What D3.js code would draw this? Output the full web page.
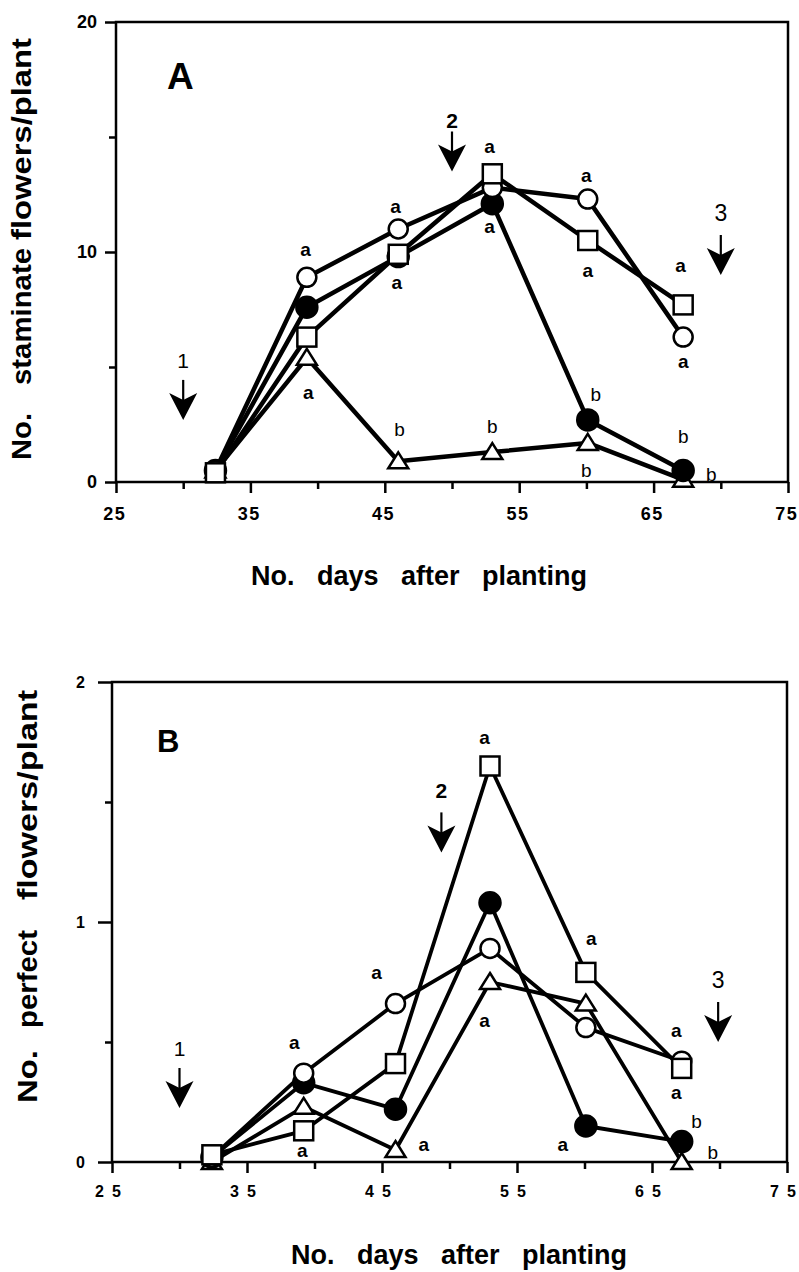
<!DOCTYPE html>
<html><head><meta charset="utf-8">
<script src="https://cdn.jsdelivr.net/npm/d3@7"></script>
<style>
body{margin:0;background:#fff}
svg{display:block}
text{font-family:"Liberation Sans",Arial,Helvetica,sans-serif;fill:#000}
</style>
</head><body><svg id="chart" width="799" height="1272"></svg>
<script>
// ---------- data ----------
const days = [32.4, 39.2, 46, 53, 60.1, 67.2];
const xTicks = [25, 35, 45, 55, 65, 75];
const xMinorTicks = [30, 40, 50, 60, 70];

// Panel A: staminate flowers / plant
const yTicksA = [0, 10, 20];
const yMinorA = [5, 15];
const staminateOpenCircle   = [0.5, 8.9, 11.0, 12.8, 12.3, 6.3];
const staminateFilledCircle = [0.5, 7.6, 9.8, 12.1, 2.7, 0.5];
const staminateOpenSquare   = [0.4, 6.3, 9.9, 13.4, 10.5, 7.7];
const staminateOpenTriangle = [0.5, 5.4, 0.9, 1.3, 1.7, 0.1];
const lettersA = [
  [39.1, 10.1, "a"], [39.3, 3.9, "a"],
  [45.8, 12.0, "a"], [45.9, 8.7, "a"], [46.1, 2.3, "b"],
  [52.8, 14.6, "a"], [52.8, 11.1, "a"], [53.0, 2.4, "b"],
  [60.0, 13.35, "a"], [60.1, 9.2, "a"], [60.7, 3.8, "b"], [60.0, 0.5, "b"],
  [67.0, 9.4, "a"], [67.2, 5.26, "a"], [67.2, 2.0, "b"], [69.3, 0.35, "b"]
];
const arrowsA = [[30, 2.7, 5.3, "1"], [50, 13.5, 15.7, "2"], [70, 9.0, 11.7, "3"]];

// Panel B: perfect flowers / plant
const yTicksB = [0, 1, 2];
const yMinorB = [0.5, 1.5];
const perfectOpenCircle   = [0.02, 0.37, 0.66, 0.89, 0.56, 0.42];
const perfectFilledCircle = [0.02, 0.33, 0.22, 1.08, 0.15, 0.085];
const perfectOpenSquare   = [0.03, 0.13, 0.41, 1.65, 0.79, 0.39];
const perfectOpenTriangle = [0.0, 0.23, 0.05, 0.75, 0.66, 0.0];
const lettersB = [
  [38.5, 0.50, "a"], [39.1, 0.05, "a"],
  [44.6, 0.79, "a"], [48.1, 0.075, "a"],
  [52.6, 1.77, "a"], [52.6, 0.59, "a"],
  [60.5, 0.93, "a"], [58.4, 0.075, "a"],
  [66.8, 0.55, "a"], [66.8, 0.29, "a"], [68.3, 0.17, "b"], [69.5, 0.04, "b"]
];
const arrowsB = [[30, 0.225, 0.475, "1"], [49.4, 1.29, 1.55, "2"], [69.9, 0.5, 0.76, "3"]];

// ---------- drawing ----------
const svg = d3.select("#chart");

function panel(cfg) {
  const x = d3.scaleLinear().domain([25, 75]).range([cfg.left, cfg.right]);
  const y = d3.scaleLinear().domain([0, cfg.yMax]).range([cfg.bottom, cfg.top]);
  const g = svg.append("g");

  // box
  g.append("rect").attr("x", cfg.left).attr("y", cfg.top)
    .attr("width", cfg.right - cfg.left).attr("height", cfg.bottom - cfg.top)
    .attr("fill", "none").attr("stroke", "#000").attr("stroke-width", 2.5);

  // x axis
  const xa = g.append("g").attr("transform", `translate(0,${cfg.bottom})`)
    .call(d3.axisBottom(x).tickValues(xTicks).tickFormat(d => String(d).split("").join(cfg.xSep))
      .tickSize(11).tickSizeOuter(0).tickPadding(cfg.xPad));
  const xm = g.append("g").attr("transform", `translate(0,${cfg.bottom})`)
    .call(d3.axisBottom(x).tickValues(xMinorTicks).tickFormat("").tickSize(7).tickSizeOuter(0));
  // y axis
  const ya = g.append("g").attr("transform", `translate(${cfg.left},0)`)
    .call(d3.axisLeft(y).tickValues(cfg.yTicks).tickFormat(d3.format("d"))
      .tickSize(cfg.yTickLen).tickSizeOuter(0).tickPadding(cfg.yPad));
  const ym = g.append("g").attr("transform", `translate(${cfg.left},0)`)
    .call(d3.axisLeft(y).tickValues(cfg.yMinor).tickFormat("").tickSize(7).tickSizeOuter(0));
  [xa, xm, ya, ym].forEach(a => {
    a.select(".domain").remove();
    a.selectAll("line").attr("stroke", "#000").attr("stroke-width", 2.5);
  });
  xa.selectAll("text").attr("font-size", cfg.xFont).attr("font-weight", "bold")
    .attr("dx", cfg.xDx)
    .style("font-family", "'Liberation Sans', Arial, sans-serif");
  ya.selectAll("text").attr("font-size", cfg.yFont).attr("font-weight", "bold")
    .style("font-family", "'Liberation Sans', Arial, sans-serif");

  // series lines
  const line = d3.line().x((d, i) => x(days[i])).y(d => y(d));
  cfg.series.forEach(s => {
    g.append("path").datum(s.values).attr("d", line)
      .attr("fill", "none").attr("stroke", "#000")
      .attr("stroke-width", cfg.lineW).attr("stroke-linejoin", "round");
  });
  // markers
  cfg.order.forEach(k => {
    const s = cfg.series.find(d => d.kind === k);
    const mg = g.append("g");
    s.values.forEach((v, i) => {
      const cx = x(days[i]), cy = y(v);
      if (k === "circle" || k === "filled") {
        mg.append("circle").attr("cx", cx).attr("cy", cy)
          .attr("r", k === "filled" ? 10.5 : 9.5)
          .attr("fill", k === "filled" ? "#000" : "#fff")
          .attr("stroke", "#000").attr("stroke-width", 2.5);
      } else if (k === "square") {
        mg.append("rect").attr("x", cx - 9.5).attr("y", cy - 9.5)
          .attr("width", 19).attr("height", 19)
          .attr("fill", "#fff").attr("stroke", "#000").attr("stroke-width", 2.5);
      } else {
        mg.append("path")
          .attr("d", `M${cx},${cy - 9} L${cx + 10},${cy + 7} L${cx - 10},${cy + 7} Z`)
          .attr("fill", "#fff").attr("stroke", "#000").attr("stroke-width", 2.5)
          .attr("stroke-linejoin", "miter");
      }
    });
  });

  // significance letters
  cfg.letters.forEach(([d, v, t]) => {
    g.append("text").attr("x", x(d)).attr("y", y(v)).attr("dy", "0.35em")
      .attr("text-anchor", "middle").attr("font-size", 19)
      .attr("font-weight", t === "a" ? "bold" : "normal").text(t);
  });

  // arrows
  cfg.arrows.forEach(([d, tipV, numV, t]) => {
    const ax = x(d), ty = y(tipV);
    g.append("line").attr("x1", ax).attr("x2", ax).attr("y1", ty - 40).attr("y2", ty - 15)
      .attr("stroke", "#000").attr("stroke-width", 2.2);
    g.append("path")
      .attr("d", `M${ax},${ty} L${ax - 14},${ty - 27} L${ax},${ty - 20} L${ax + 14},${ty - 27} Z`)
      .attr("fill", "#000");
    g.append("text").attr("x", ax).attr("y", y(numV)).attr("dy", "0.36em")
      .attr("text-anchor", "middle").attr("font-size", t === "3" ? 23 : 21)
      .attr("font-weight", t === "2" ? "bold" : "normal").text(t);
  });

  // panel letter
  g.append("text").attr("x", cfg.tag[1]).attr("y", cfg.tag[2])
    .attr("font-size", cfg.tag[3]).attr("font-weight", "bold").text(cfg.tag[0]);

  // y-axis title (rotated words)
  cfg.yTitle.forEach(([t, yb, yt]) => {
    g.append("text").attr("transform", `translate(${cfg.yTitleX},${yb}) rotate(-90)`)
      .attr("font-size", 27).attr("font-weight", "bold")
      .attr("textLength", yb - yt).attr("lengthAdjust", "spacingAndGlyphs").text(t);
  });
  // x-axis title
  g.append("text").attr("x", cfg.xTitle[0]).attr("y", cfg.xTitle[1])
    .attr("text-anchor", "middle").attr("font-size", 27).attr("font-weight", "bold")
    .style("white-space", "pre").text("No.   days   after   planting");
}

panel({
  left: 116, right: 788, top: 22, bottom: 482, yMax: 20,
  yTicks: yTicksA, yMinor: yMinorA, yTickLen: 11, yPad: 8, yFont: 18,
  xPad: 14, xFont: 18, xSep: "\u200A", xDx: -2.5, lineW: 4.5,
  series: [
    {kind: "circle", values: staminateOpenCircle},
    {kind: "filled", values: staminateFilledCircle},
    {kind: "square", values: staminateOpenSquare},
    {kind: "triangle", values: staminateOpenTriangle}
  ],
  order: ["triangle", "filled", "circle", "square"],
  letters: lettersA, arrows: arrowsA,
  tag: ["A", 167, 89, 37],
  yTitleX: 31,
  yTitle: [["No.", 460, 413], ["staminate", 385, 248], ["flowers/plant", 240, 38]],
  xTitle: [419, 585]
});

panel({
  left: 112, right: 787, top: 682, bottom: 1162, yMax: 2,
  yTicks: yTicksB, yMinor: yMinorB, yTickLen: 14, yPad: 13, yFont: 16,
  xPad: 13, xFont: 16, xSep: "\u2002", xDx: -4.5, lineW: 3.8,
  series: [
    {kind: "circle", values: perfectOpenCircle},
    {kind: "filled", values: perfectFilledCircle},
    {kind: "square", values: perfectOpenSquare},
    {kind: "triangle", values: perfectOpenTriangle}
  ],
  order: ["triangle", "filled", "circle", "square"],
  letters: lettersB, arrows: arrowsB,
  tag: ["B", 157, 752, 31],
  yTitleX: 37,
  yTitle: [["No.", 1103, 1050], ["perfect", 1028, 930], ["flowers/plant", 900, 690]],
  xTitle: [459, 1264]
});
</script>
</body></html>
